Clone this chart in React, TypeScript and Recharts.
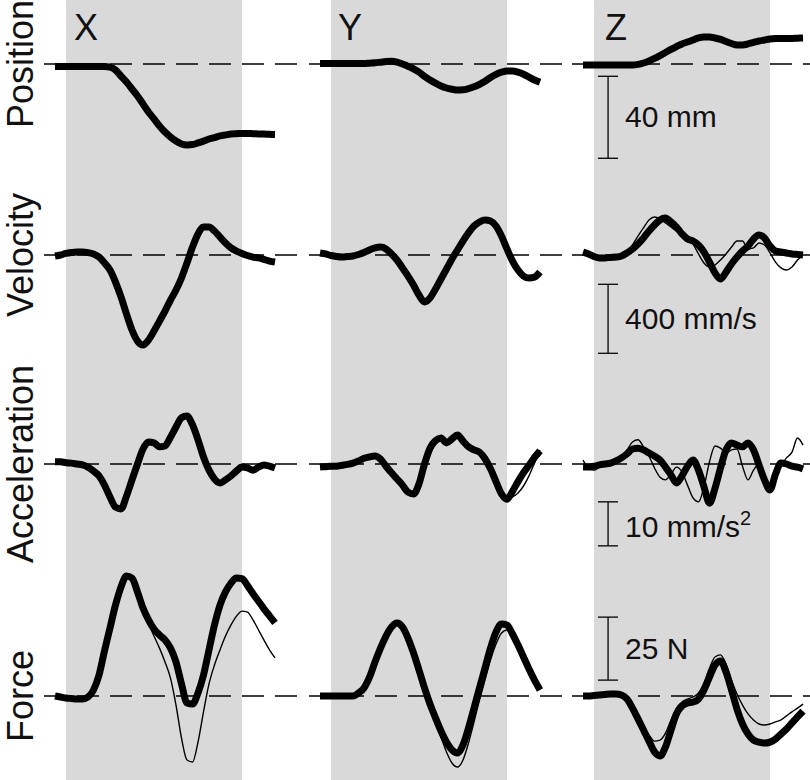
import React from 'react';
import { LineChart, Line, XAxis, YAxis, ReferenceArea, ReferenceLine } from 'recharts';

// time samples (% of the trial) shared by every panel
const times = [
  0, 2.5, 5, 7.5, 10, 12.5, 15, 17.5, 20, 22.5,
  25, 27.5, 30, 32.5, 35, 37.5, 40, 42.5, 45, 47.5,
  50, 52.5, 55, 57.5, 60, 62.5, 65, 67.5, 70, 72.5,
  75, 77.5, 80, 82.5, 85, 87.5, 90, 92.5, 95, 97.5,
  100,
];

// Position (mm)
const posX = [
  -1.2, -1.2, -1.2, -1.2, -1.2, -1.2, -1.2, -1.2, -1.2, -1.2,
  -1.5, -2.9, -5.9, -8.8, -12.2, -15.6, -19.5, -23.4, -26.8, -30.2,
  -33.2, -35.6, -37.6, -39, -39.5, -39.3, -38.5, -37.6, -36.6, -35.9,
  -35.1, -34.6, -34.1, -34, -33.9, -33.9, -34, -34.1, -34.2, -34.3,
  -34.4,
];
const posY = [
  0.2, 0.2, 0.2, 0.2, 0.2, 0.2, 0.2, 0.2, 0.2, 0.4,
  0.6, 0.9, 1.2, 1.3, 0.9, 0, -1.1, -2.4, -4, -6,
  -7.8, -9.3, -10.7, -11.7, -12.3, -12.7, -12.6, -12, -11.1, -9.9,
  -8.4, -6.6, -5.1, -4, -3.4, -3.4, -4, -5, -6.4, -7.8,
  -8.9,
];
const posZ = [
  -0.5, -0.5, -0.5, -0.5, -0.5, -0.5, -0.5, -0.5, -0.5, -0.5,
  -0.2, 0.5, 1.5, 2.7, 4.1, 5.6, 7.1, 8.5, 9.8, 10.7,
  11.7, 12.7, 13.2, 13.2, 12.7, 12, 11, 10, 9.3, 9.3,
  9.8, 10.5, 11.2, 11.7, 12.2, 12.4, 12.4, 12.5, 12.5, 12.6,
  12.7,
];
const posZThin = [
  -0.5, -0.5, -0.5, -0.5, -0.5, -0.5, -0.5, -0.5, -0.5, -0.5,
  -0.2, 0.5, 1.5, 2.7, 4.1, 5.6, 7.1, 8.5, 9.8, 10.7,
  11.7, 12.7, 13.2, 13.2, 12.7, 12, 11, 10, 9.3, 9.8,
  10.8, 11.5, 11.7, 11.9, 12.2, 12.4, 12.4, 12.5, 12.5, 12.6,
  12.7,
];

// Velocity (mm/s)
const velX = [
  -6, 0, 9, 14, 17, 17, 14, 6, -12, -46,
  -87, -157, -243, -342, -435, -499, -522, -493, -441, -383,
  -325, -261, -203, -133, -46, 46, 122, 162, 162, 139,
  104, 70, 41, 23, 9, -3, -12, -17, -26, -35,
  -41,
];
const velY = [
  12, 6, -3, -9, -12, -9, -6, 3, 14, 29,
  41, 46, 35, 6, -29, -75, -122, -174, -232, -272,
  -249, -197, -139, -81, -23, 29, 81, 128, 168, 191,
  203, 197, 168, 110, 35, -35, -87, -122, -133, -128,
  -99,
];
const velZ = [
  17, 6, -9, -17, -17, -14, -12, -6, 12, 35,
  64, 99, 139, 174, 203, 214, 191, 162, 122, 93,
  81, 58, 17, -41, -104, -139, -99, -52, -12, 23,
  52, 93, 116, 99, 52, 23, 17, 12, 6, 3,
  0,
];
const velZThin = [
  17, 6, -9, -17, -17, -14, -12, -6, 12, 58,
  110, 157, 203, 220, 209, 186, 162, 139, 122, 99,
  64, 6, -46, -70, -58, -29, 6, 46, 81, 81,
  35, 41, 70, 58, 12, -41, -75, -87, -70, -29,
  0,
];

// Acceleration (mm/s^2)
const accX = [
  0.5, 0.5, 0.3, 0.2, 0, -0.2, -0.7, -1.6, -2.7, -4.8,
  -7.5, -9.8, -10.2, -7.3, -3.6, 0, 3.4, 5, 4.8, 3.9,
  4.1, 6.1, 8.4, 10.5, 10.9, 8.9, 5.5, 1.6, -1.4, -3.4,
  -4.3, -3.6, -2.7, -1.6, -0.7, -0.9, -1.4, -0.7, -0.2, -0.5,
  -0.9,
];
const accY = [
  -0.7, -0.6, -0.5, -0.5, -0.3, -0.1, 0.2, 0.7, 1.3, 1.6,
  1.8, 1.1, -0.5, -2, -3.4, -4.8, -6.4, -6.8, -4.5, 0,
  3.6, 5.3, 5.9, 4.8, 5.7, 6.6, 5.2, 3.9, 3.2, 2.7,
  1.2, -1.1, -4, -6.8, -8, -6.2, -4, -2, -0.3, 1.5,
  3,
];
const accYThin = [
  -0.7, -0.6, -0.5, -0.5, -0.3, -0.1, 0.2, 0.7, 1.3, 1.6,
  1.8, 1.1, -0.5, -2, -3.4, -4.8, -6.4, -6.8, -4.5, 0,
  3.6, 5.3, 5.9, 4.8, 5.7, 6.6, 5.2, 3.9, 3.2, 2.7,
  1.2, -1.1, -4, -6.8, -8, -7.5, -6.6, -5, -2.7, 0.2,
  3.2,
];
const accZ = [
  -0.7, -0.7, -0.5, -0.2, 0, 0.2, 0.7, 1.4, 2.3, 3.4,
  3.6, 3.2, 2.5, 1.8, 0.9, -0.7, -2.5, -4.3, -2.7, -0.5,
  0.9, -1.4, -5.2, -8.9, -5.5, -0.9, 3.2, 4.8, 4.3, 3.9,
  4.8, 3.2, -0.2, -3.6, -5.9, -2.3, 0.2, 0, -0.5, -0.7,
  -1.1,
];
const accZThin = [
  0.9, -0.9, -1.4, -0.7, -0.2, 0.2, 0.7, 1.6, 3.2, 5,
  5.5, 3.9, 1.8, -0.9, -3, -3.6, -2.3, -0.7, -1.8, -4.8,
  -7.7, -8.6, -5.2, 0.5, 4.1, 3.6, 2.5, 3.2, 3.4, -0.5,
  -3.6, -1.4, 0, -3.6, -4.8, -1.8, -0.2, 1.4, 2.7, 5.9,
  4.3,
];

// Force (N)
const forceX = [
  0, -0.4, -0.8, -1, -1.2, -1.2, -0.4, 2.4, 8.3, 17.9,
  27, 36.1, 43.3, 47.6, 46.8, 41.3, 34.9, 30.2, 26.6, 24.2,
  22.2, 19, 13.5, 4.8, -2.8, -3.2, 1.2, 8.3, 18.3, 28.2,
  36.1, 41.3, 44.8, 46.8, 46.6, 43.8, 40.6, 37.6, 34.6, 31.8,
  29,
];
const forceXThin = [
  0, -0.4, -0.8, -1, -1.2, -1.2, -0.4, 2.4, 8.3, 17.9,
  27, 36.1, 43.3, 47.6, 46.8, 41.3, 34.9, 29, 23.8, 19,
  13.5, 7.1, -3.6, -16.7, -25.4, -26.2, -18.3, -6.3, 4.8, 12.3,
  18.3, 23.8, 28.2, 31.7, 33.7, 33.3, 30.2, 26.2, 22.2, 18.3,
  15.1,
];
const forceY = [
  0, 0, 0, 0, 0, 0, 0, 1.2, 3.2, 7.5,
  13.5, 19, 23.8, 27.4, 29, 27.4, 23, 17.1, 10.3, 3.2,
  -3.2, -8.7, -13.9, -18.3, -21.4, -22.6, -19.4, -12.7, -4.8, 3.2,
  11.1, 19, 25.4, 28.6, 28.2, 24.6, 20.2, 15.5, 10.7, 6.3,
  2.4,
];
const forceYThin = [
  0, 0, 0, 0, 0, 0, 0, 1.2, 3.2, 7.5,
  13.5, 19, 23.8, 27.4, 29, 27.4, 23, 17.1, 10.3, 3.2,
  -4.4, -10.3, -16.3, -22.2, -26.6, -28.2, -25.4, -18.7, -10.3, -1.6,
  6.3, 14.3, 20.6, 25, 26.2, 23.8, 19.8, 15.5, 10.7, 6.3,
  2.4,
];
const forceZ = [
  0, 0, 0.2, 0.4, 0.6, 0.8, 0.8, 0.4, -1.2, -4.8,
  -9.1, -13.5, -17.9, -22.2, -23.8, -20.2, -13.5, -7.1, -4, -2.8,
  -2.4, -1.2, 2.4, 7.5, 12.3, 13.9, 9.5, 2.4, -5.2, -11.1,
  -15.1, -17.5, -18.3, -18.7, -18.3, -17.1, -15.1, -13.1, -10.7, -8.3,
  -6,
];
const forceZThin = [
  0, 0, 0.2, 0.4, 0.6, 0.8, 0.8, 0.4, -1.2, -4.8,
  -9.1, -12.3, -15.5, -17.9, -17.5, -14.7, -9.5, -4.8, -2.4, -1.2,
  -0.4, 1.2, 5.2, 11.1, 15.5, 16.3, 12.7, 6.3, 0.8, -3.6,
  -7.1, -9.5, -11.1, -11.5, -11.1, -10.3, -9.5, -7.9, -6.3, -4.8,
  -3.2,
];

// scale bars drawn in the Z column
const scaleBars = [
  { row: 'pos', top: -6, span: 40, text: '40 mm', sup: '' },
  { row: 'vel', top: -170, span: 400, text: '400 mm/s', sup: '' },
  { row: 'acc', top: -8.6, span: 10, text: '10 mm/s', sup: '2' },
  { row: 'force', top: 31.3, span: 25, text: '25 N', sup: '' },
];

const FONT = 'Liberation Sans, Arial, Helvetica, sans-serif';
const H = 780;
const W = 253;

// baseline pixel and pixels-per-unit of each row
const ROWS = [
  { key: 'pos', label: 'Position', base: 64, ppu: 2.05 },
  { key: 'vel', label: 'Velocity', base: 255, ppu: 0.1725 },
  { key: 'acc', label: 'Acceleration', base: 464, ppu: 4.4 },
  { key: 'force', label: 'Force', base: 696, ppu: 2.52 },
];

const COLUMNS = [
  {
    name: 'X', left: 44, titleX: 74,
    thick: { pos: posX, vel: velX, acc: accX, force: forceX },
    thin: { force: forceXThin } as Record<string, number[]>,
  },
  {
    name: 'Y', left: 309, titleX: 338,
    thick: { pos: posY, vel: velY, acc: accY, force: forceY },
    thin: { acc: accYThin, force: forceYThin } as Record<string, number[]>,
  },
  {
    name: 'Z', left: 572, titleX: 605,
    thick: { pos: posZ, vel: velZ, acc: accZ, force: forceZ },
    thin: { pos: posZThin, vel: velZThin, acc: accZThin, force: forceZThin } as Record<string, number[]>,
  },
];

const barLabel = (text: string, sup: string) => (props: any) => {
  const vb = props.viewBox || {};
  const x = (vb.x || 0) + (vb.width || 0) + 17;
  const y = (vb.y || 0) + (vb.height || 0) / 2 + 10 + (sup ? 3 : 0);
  return (
    <text x={x} y={y} fontSize={30} fontFamily={FONT} fill="#111">
      {text}
      {sup && (
        <tspan dy={-12} fontSize={20}>
          {sup}
        </tspan>
      )}
    </text>
  );
};

function Column({ col }: { col: (typeof COLUMNS)[number] }) {
  const data = times.map((t, i) => {
    const row: Record<string, number> = { t };
    ROWS.forEach((r) => {
      row[r.key] = (col.thick as any)[r.key][i];
      if (col.thin[r.key]) row[r.key + 'Thin'] = col.thin[r.key][i];
    });
    return row;
  });

  return (
    <div style={{ position: 'absolute', left: col.left, top: 0 }}>
      <LineChart width={W} height={H} data={data} margin={{ top: 0, right: 0, bottom: 0, left: 0 }}>
        <XAxis dataKey="t" type="number" domain={[-5, 110]} allowDataOverflow hide />
        {ROWS.map((r) => (
          <YAxis
            key={r.key}
            yAxisId={r.key}
            type="number"
            domain={[-(H - r.base) / r.ppu, r.base / r.ppu]}
            allowDataOverflow
            hide
          />
        ))}
        <ReferenceArea
          yAxisId="pos"
          x1={5}
          x2={85}
          fill="#d9d9d9"
          fillOpacity={1}
          stroke="none"
        />
        {ROWS.map((r) => (
          <ReferenceLine
            key={'zero-' + r.key}
            yAxisId={r.key}
            y={0}
            stroke="#000"
            strokeWidth={1.4}
            strokeDasharray="22 11"
          />
        ))}
        {col.name === 'Z' &&
          scaleBars.map((b) => [
            <ReferenceLine
              key={'bar-' + b.row}
              yAxisId={b.row}
              segment={[{ x: 11.4, y: b.top }, { x: 11.4, y: b.top - b.span }]}
              stroke="#111"
              strokeWidth={1.4}
              label={barLabel(b.text, b.sup)}
            />,
            <ReferenceLine
              key={'capT-' + b.row}
              yAxisId={b.row}
              segment={[{ x: 6.8, y: b.top }, { x: 15.9, y: b.top }]}
              stroke="#111"
              strokeWidth={1.4}
            />,
            <ReferenceLine
              key={'capB-' + b.row}
              yAxisId={b.row}
              segment={[{ x: 6.8, y: b.top - b.span }, { x: 15.9, y: b.top - b.span }]}
              stroke="#111"
              strokeWidth={1.4}
            />,
          ])}
        {ROWS.filter((r) => col.thin[r.key]).map((r) => (
          <Line
            key={'thin-' + r.key}
            yAxisId={r.key}
            dataKey={r.key + 'Thin'}
            type="monotone"
            stroke="#000"
            strokeWidth={1.4}
            dot={false}
            activeDot={false}
            isAnimationActive={false}
          />
        ))}
        {ROWS.map((r) => (
          <Line
            key={'thick-' + r.key}
            yAxisId={r.key}
            dataKey={r.key}
            type="monotone"
            stroke="#000"
            strokeWidth={7}
            strokeLinejoin="round"
            dot={false}
            activeDot={false}
            isAnimationActive={false}
          />
        ))}
      </LineChart>
    </div>
  );
}

export default function App() {
  return (
    <div
      style={{
        position: 'absolute',
        left: 0,
        top: 0,
        width: 810,
        height: H,
        overflow: 'hidden',
        background: '#fff',
      }}
    >
      {COLUMNS.map((c) => (
        <Column key={c.name} col={c} />
      ))}
      <svg
        width={810}
        height={H}
        style={{ position: 'absolute', left: 0, top: 0, pointerEvents: 'none' }}
      >
        {COLUMNS.map((c) => (
          <text key={c.name} x={c.titleX} y={40} fontSize={36} fontFamily={FONT} fill="#111">
            {c.name}
          </text>
        ))}
        {ROWS.map((r) => (
          <text
            key={r.key}
            transform={`translate(33, ${r.base}) rotate(-90)`}
            textAnchor="middle"
            fontSize={36}
            fontFamily={FONT}
            fill="#111"
          >
            {r.label}
          </text>
        ))}
      </svg>
    </div>
  );
}
